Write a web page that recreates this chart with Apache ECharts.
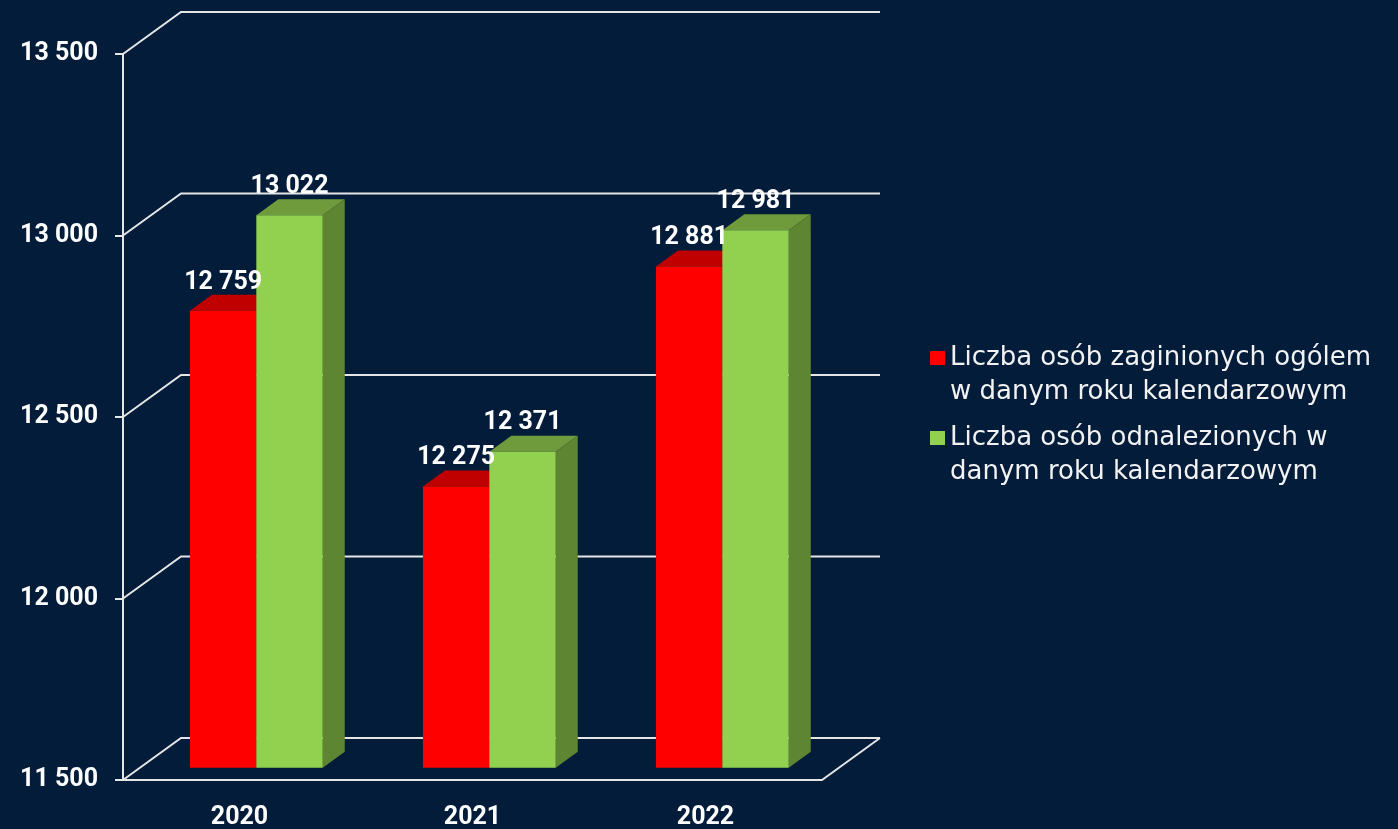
<!DOCTYPE html>
<html>
<head>
<meta charset="utf-8">
<script src="https://cdn.jsdelivr.net/npm/echarts@6/dist/echarts.min.js"></script>
<style>
  html, body { margin: 0; padding: 0; background: #021c3a; }
  #chart { width: 1398px; height: 829px; }
</style>
</head>
<body>
<div id="chart"></div>
<script>
var years = ['2020', '2021', '2022'];
var missing = [12759, 12275, 12881];
var found = [13022, 12371, 12981];
var seriesNames = [
  'Liczba osób zaginionych ogólem\nw danym roku kalendarzowym',
  'Liczba osób odnalezionych w\ndanym roku kalendarzowym'
];
var yTicks = [11500, 12000, 12500, 13000, 13500];

// fake 3d: how far the back wall sits from the front axis plane
var DEPTH_X = 58;
var DEPTH_Y = -42;
var BAR_FRONT = 0.29;
var BAR_BACK = 0.67;
var LINE = '#e6e6e6';

function fmt(v) {
  return String(v).replace(/\B(?=(\d{3})+(?!\d))/g, ' ');
}

function renderWall(params, api) {
  var cs = params.coordSys;
  var v = api.value(1);
  var y = api.coord([0, v])[1];
  var left = cs.x, right = cs.x + cs.width;
  var children = [{
    type: 'polyline',
    shape: {points: [[left, y], [left + DEPTH_X, y + DEPTH_Y], [right + DEPTH_X, y + DEPTH_Y]]},
    style: {stroke: LINE, lineWidth: 2, fill: null}
  }];
  if (v === yTicks[0]) {
    // right edge of the floor
    children.push({
      type: 'line',
      shape: {x1: right, y1: y, x2: right + DEPTH_X, y2: y + DEPTH_Y},
      style: {stroke: LINE, lineWidth: 2}
    });
  }
  return {type: 'group', children: children};
}

function renderBar(side, faceColor, topColor, sideColor) {
  return function (params, api) {
    var idx = api.value(0);
    var val = api.value(1);
    var top = api.coord([idx, val]);
    var base = api.coord([idx, yTicks[0]]);
    var w = api.size([1, 0])[0] * 0.285;
    var x0 = side === 0 ? top[0] - w : top[0];
    var x1 = x0 + w;
    var fx = DEPTH_X * BAR_FRONT, fy = DEPTH_Y * BAR_FRONT;
    var bx = DEPTH_X * BAR_BACK, by = DEPTH_Y * BAR_BACK;
    return {
      type: 'group',
      children: [{
        type: 'polygon',
        shape: {points: [[x0 + fx, top[1] + fy], [x1 + fx, top[1] + fy], [x1 + bx, top[1] + by], [x0 + bx, top[1] + by]]},
        style: {fill: topColor}
      }, {
        type: 'polygon',
        shape: {points: [[x1 + fx, top[1] + fy], [x1 + bx, top[1] + by], [x1 + bx, base[1] + by], [x1 + fx, base[1] + fy]]},
        style: {fill: sideColor}
      }, {
        type: 'rect',
        shape: {x: x0 + fx, y: top[1] + fy, width: w, height: base[1] - top[1]},
        style: {fill: faceColor}
      }, {
        type: 'text',
        z2: 100,
        style: {
          text: fmt(val),
          x: (x0 + x1) / 2 + fx,
          y: top[1] + by,
          align: 'center',
          verticalAlign: 'bottom',
          fill: '#ffffff',
          fontSize: 25,
          fontWeight: 'bold',
          fontFamily: 'Roboto'
        }
      }]
    };
  };
}

var myChart = echarts.init(document.getElementById('chart'));
var option = {
  backgroundColor: '#021c3a',
  animation: false,
  grid: {left: 123, right: 576, top: 54, bottom: 49, outerBoundsMode: 'none'},
  legend: {
    orient: 'vertical',
    left: 930,
    top: 341,
    padding: 0,
    itemWidth: 15,
    itemHeight: 68,
    itemGap: 12,
    icon: 'path://M0,0M15,68M0,10h15v14h-15z',
    textStyle: {color: '#f2f2f2', fontSize: 26, fontFamily: 'DejaVu Sans', lineHeight: 34},
    data: seriesNames
  },
  xAxis: {
    type: 'category',
    data: years,
    axisLine: {lineStyle: {color: LINE, width: 2}},
    axisTick: {length: 10, lineStyle: {color: LINE, width: 2}},
    axisLabel: {color: '#ffffff', fontSize: 25, fontWeight: 'bold', fontFamily: 'Roboto', margin: 25}
  },
  yAxis: {
    type: 'value',
    min: 11500,
    max: 13500,
    interval: 500,
    axisLine: {show: true, lineStyle: {color: LINE, width: 2}},
    axisTick: {show: true, length: 8, lineStyle: {color: LINE, width: 2}},
    splitLine: {show: false},
    axisLabel: {color: '#ffffff', fontSize: 25, fontWeight: 'bold', fontFamily: 'Roboto', margin: 25, formatter: fmt}
  },
  series: [{
    name: 'walls',
    type: 'custom',
    clip: false,
    silent: true,
    renderItem: renderWall,
    encode: {x: 0, y: 1},
    data: yTicks.map(function (v) { return [0, v]; })
  }, {
    name: seriesNames[0],
    type: 'custom',
    clip: false,
    itemStyle: {color: '#ff0000'},
    renderItem: renderBar(0, '#ff0000', '#c00000', '#a00000'),
    encode: {x: 0, y: 1},
    data: missing.map(function (v, i) { return [i, v]; })
  }, {
    name: seriesNames[1],
    type: 'custom',
    clip: false,
    itemStyle: {color: '#92d050'},
    renderItem: renderBar(1, '#92d050', '#6f9b3c', '#5e8531'),
    encode: {x: 0, y: 1},
    data: found.map(function (v, i) { return [i, v]; })
  }]
};
myChart.setOption(option);
</script>
</body>
</html>
